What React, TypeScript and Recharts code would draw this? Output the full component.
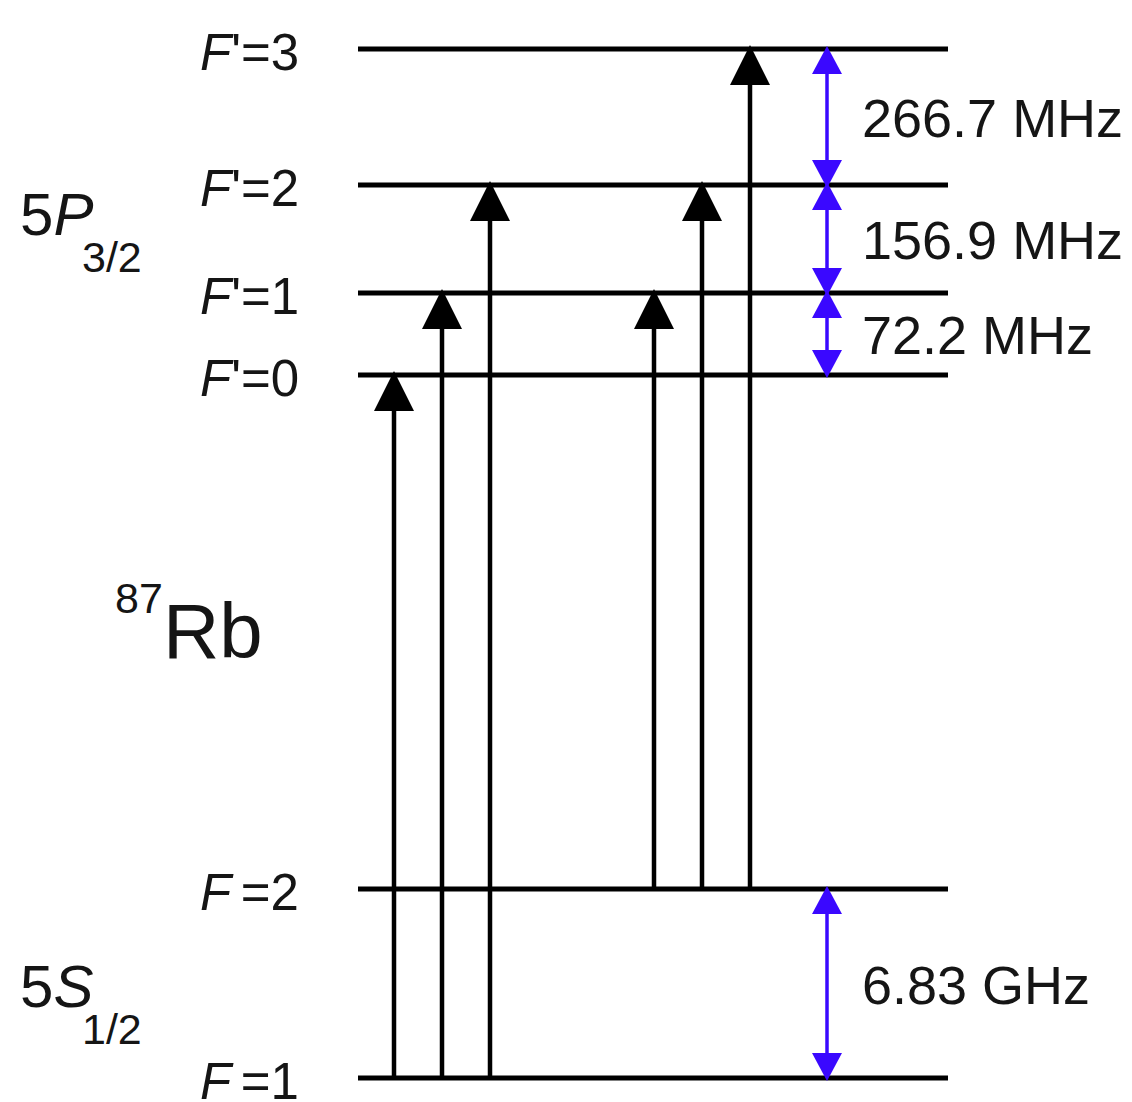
import { ComposedChart, XAxis, YAxis, ReferenceLine, Scatter } from 'recharts'

// 87Rb D2 line hyperfine structure (schematic, not to scale)
const levelNames = ["F'=3", "F'=2", "F'=1", "F'=0", 'F=2', 'F=1']
const levelHeights = [1053, 917, 809, 727, 213, 24]

const transitionFrom = ['F=1', 'F=1', 'F=1', 'F=2', 'F=2', 'F=2']
const transitionTo = ["F'=0", "F'=1", "F'=2", "F'=1", "F'=2", "F'=3"]
const transitionLanes = [394, 442, 490, 654, 702, 750]

const splitUpper = ["F'=3", "F'=2", "F'=1", 'F=2']
const splitLower = ["F'=2", "F'=1", "F'=0", 'F=1']
const splitLabels = ['266.7 MHz', '156.9 MHz', '72.2 MHz', '6.83 GHz']

const stateLabels = [
  { x: 20, y: 867, pre: '5', letter: 'P', sub: '3/2' },
  { x: 20, y: 95, pre: '5', letter: 'S', sub: '1/2' },
]
const isotope = [{ x: 115, y: 444, mass: '87', symbol: 'Rb' }]

const W = 1132
const H = 1102
const LEVEL_X0 = 358
const LEVEL_X1 = 948
const SPLIT_X = 827
const FONT = '"Liberation Sans", Arial, Helvetica, sans-serif'
const BLUE = '#3a08ff'

const heightOf = (name: string) => levelHeights[levelNames.indexOf(name)]

const levelShape = (name: string) => (p: any) => {
  const primed = name.includes("'")
  const rest = name.slice(primed ? 2 : 1)
  return (
    <g>
      <line x1={p.x1} y1={p.y1} x2={p.x2} y2={p.y2} stroke="#000" strokeWidth={5} />
      <text x={p.x1 - 158} y={p.y1 + 21} fontSize={51} fontFamily={FONT} fill="#151515">
        <tspan fontStyle="italic">F</tspan>
        {primed ? <tspan>'</tspan> : null}
        <tspan dx={primed ? 0 : 9.5}>{rest}</tspan>
      </text>
    </g>
  )
}

const upArrow = (p: any) => {
  const tip = p.y2 - 4
  return (
    <g>
      <line x1={p.x1} y1={p.y1} x2={p.x2} y2={tip + 30} stroke="#000" strokeWidth={4.5} />
      <polygon points={`${p.x2},${tip} ${p.x2 - 20},${tip + 40} ${p.x2 + 20},${tip + 40}`} fill="#000" />
    </g>
  )
}

const splitShape = (label: string) => (p: any) => {
  const top = p.y1 - 3
  const bottom = p.y2 + 3
  const x = p.x1
  return (
    <g>
      <line x1={x} y1={top + 20} x2={x} y2={bottom - 20} stroke={BLUE} strokeWidth={3.5} />
      <polygon points={`${x},${top} ${x - 15},${top + 28} ${x + 15},${top + 28}`} fill={BLUE} />
      <polygon points={`${x},${bottom} ${x - 15},${bottom - 28} ${x + 15},${bottom - 28}`} fill={BLUE} />
      <text x={x + 35} y={(p.y1 + p.y2) / 2 + 20} fontSize={54} fontFamily={FONT} fill="#151515">
        {label}
      </text>
    </g>
  )
}

const StateLabel = (p: any) => {
  const d = p.payload
  return (
    <g fontFamily={FONT} fill="#151515">
      <text x={p.cx} y={p.cy} fontSize={60}>
        {d.pre}
        <tspan fontStyle="italic">{d.letter}</tspan>
      </text>
      <text x={p.cx + 62} y={p.cy + 37} fontSize={43}>
        {d.sub}
      </text>
    </g>
  )
}

const IsotopeLabel = (p: any) => {
  const d = p.payload
  return (
    <g fontFamily={FONT} fill="#151515">
      <text x={p.cx} y={p.cy - 45} fontSize={43}>
        {d.mass}
      </text>
      <text x={p.cx + 48} y={p.cy} fontSize={78}>
        {d.symbol}
      </text>
    </g>
  )
}

export default function App() {
  return (
    <div style={{ position: 'absolute', left: 0, top: 0, width: W, height: H, background: '#fff' }}>
      <ComposedChart width={W} height={H} margin={{ top: 0, right: 0, bottom: 0, left: 0 }}>
        <XAxis type="number" dataKey="x" domain={[0, W]} allowDataOverflow hide />
        <YAxis type="number" dataKey="y" domain={[0, H]} allowDataOverflow hide />
        {levelNames.map((name, i) => (
          <ReferenceLine
            key={name}
            segment={[
              { x: LEVEL_X0, y: levelHeights[i] },
              { x: LEVEL_X1, y: levelHeights[i] },
            ]}
            shape={levelShape(name)}
          />
        ))}
        {transitionLanes.map((lane, i) => (
          <ReferenceLine
            key={'t' + i}
            segment={[
              { x: lane, y: heightOf(transitionFrom[i]) },
              { x: lane, y: heightOf(transitionTo[i]) },
            ]}
            shape={upArrow}
          />
        ))}
        {splitLabels.map((label, i) => (
          <ReferenceLine
            key={label}
            segment={[
              { x: SPLIT_X, y: heightOf(splitUpper[i]) },
              { x: SPLIT_X, y: heightOf(splitLower[i]) },
            ]}
            shape={splitShape(label)}
          />
        ))}
        <Scatter data={stateLabels} shape={StateLabel} isAnimationActive={false} />
        <Scatter data={isotope} shape={IsotopeLabel} isAnimationActive={false} />
      </ComposedChart>
    </div>
  )
}
